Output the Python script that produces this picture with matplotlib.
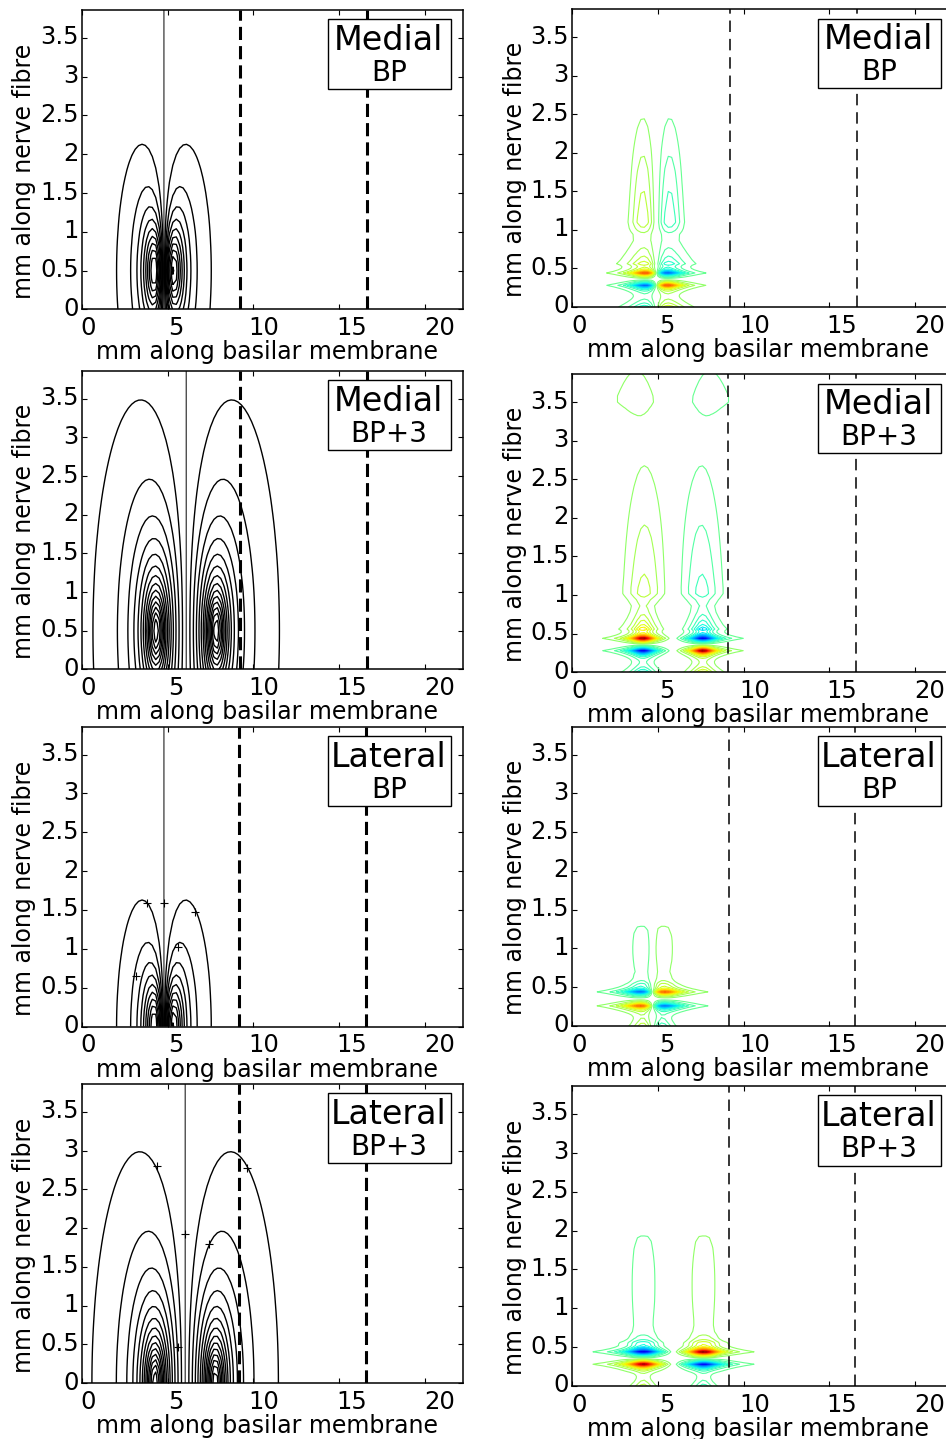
import numpy as np
import matplotlib
matplotlib.use("Agg")
import matplotlib.pyplot as plt
import matplotlib.transforms as mtransforms
from matplotlib.patches import Rectangle

plt.rcParams["contour.negative_linestyle"] = "solid"

# ---------------------------------------------------------------- labels
SITES = ["Medial", "Medial", "Lateral", "Lateral"]
MODES = ["BP", "BP+3", "BP", "BP+3"]
XLABEL = "mm along basilar membrane"
YLABEL = "mm along nerve fibre"
XTICKS = [0, 5, 10, 15, 20]
YTICKS = [0, 0.5, 1, 1.5, 2, 2.5, 3, 3.5]
YTICK_TEXT = ["0", "0.5", "1", "1.5", "2", "2.5", "3", "3.5"]

# ------------------------------------------- electrode potential (left)
POT_CENTRE = [4.78, 6.08, 4.78, 6.02]      # midpoint of electrode pair, mm
POT_HALF_SEP = [0.50, 1.75, 0.50, 1.75]    # half spacing of the pair, mm
POT_HEIGHT = [0.5, 0.5, 0.0, 0.0]          # electrode level along fibre, mm
POT_DEPTH = 0.45                           # electrode distance from plane, mm
POT_STEP = 0.13                            # contour interval
POT_NLEVELS = 16

# contour-label marks on the potential maps
PLUS_X = [[], [], [3.77, 4.78, 6.60, 5.62, 3.15], [4.36, 9.61, 6.02, 7.41, 5.62]]
PLUS_Y = [[], [], [1.59, 1.59, 1.48, 1.03, 0.65], [2.80, 2.77, 1.93, 1.80, 0.47]]

# -------------------------------------------- activating function (right)
AF_CENTRE = [4.90, 5.875, 4.68, 5.905]
AF_HALF_SEP = [0.52, 1.745, 0.535, 1.755]
AF_NLEVELS = 20
# layers: (y centre, amplitude, decay below, decay above, y exponent,
#          x width, x exponent (0 = Lorentzian), outward shift)
AF_MED_BP = [
    (0.44, 20.0, 0.045, 0.045, 1, 0.80, 0, 0.0),
    (0.28, -20.0, 0.045, 0.045, 1, 0.80, 0, 0.0),
    (0.56, 7.0, 0.05, 0.30, 1, 1.00, 0, 0.0),
    (1.10, 3.2, 0.12, 1.25, 2, 0.50, 2, 0.25),
    (0.00, -8.0, 0.10, 0.10, 1, 0.90, 0, 0.0),
]
AF_MED_BP3 = [
    (0.44, 20.0, 0.045, 0.045, 1, 0.60, 0, 0.0),
    (0.28, -20.0, 0.045, 0.045, 1, 0.60, 0, 0.0),
    (0.56, 6.0, 0.05, 0.28, 1, 0.60, 0, 0.0),
    (1.05, 2.6, 0.12, 1.60, 2, 0.85, 2, -0.1),
    (3.52, 1.6, 0.30, 1.00, 1, 1.90, 0, 0.4),
    (0.00, -6.0, 0.10, 0.10, 1, 0.60, 0, 0.0),
]
AF_LAT_BP = [
    (0.44, -20.0, 0.045, 0.045, 1, 0.95, 0, 0.0),
    (0.26, 20.0, 0.045, 0.045, 1, 0.95, 0, 0.0),
    (0.53, -2.5, 0.04, 0.08, 1, 0.60, 0, 0.0),
    (1.00, -1.5, 0.45, 0.45, 2, 0.59, 4, 0.07),
    (0.00, 5.0, 0.10, 0.12, 1, 0.50, 0, 0.0),
]
AF_LAT_BP3 = [
    (0.44, -20.0, 0.045, 0.045, 1, 0.78, 0, 0.0),
    (0.28, 20.0, 0.045, 0.045, 1, 0.78, 0, 0.0),
    (0.55, -3.0, 0.04, 0.08, 1, 0.90, 0, 0.0),
    (1.30, -1.6, 0.92, 0.92, 2, 0.68, 4, 0.0),
    (0.00, 4.0, 0.10, 0.12, 1, 0.50, 0, 0.0),
]
AF_LAYERS = [AF_MED_BP, AF_MED_BP3, AF_LAT_BP, AF_LAT_BP3]

# reference positions along the basilar membrane (dashed lines)
DASH_LEFT = [(9.22, 16.62), (9.22, 16.62), (9.16, 16.58), (9.16, 16.58)]
DASH_RIGHT = [(9.22, 16.63), (9.08, 16.57), (9.16, 16.53), (9.16, 16.53)]

# ---------------------------------------------------------------- layout
W, H = 946, 1439
AX_W = 380.6
LEFT_X0, RIGHT_X0 = 82.1, 572.4
LEFT_ROWS = [(10.0, 309.4), (371.0, 669.4), (726.7, 1026.5), (1084.0, 1383.1)]
RIGHT_ROWS = [(9.3, 306.9), (374.3, 672.3), (726.7, 1026.0), (1086.0, 1386.0)]
XLIM = (0.0, 22.23)
YLIM = (0.0, 3.86)

FS_TICK = 17.5
FS_LABEL = 17
FS_SITE = 24
FS_MODE = 20


def potential(X, Y, k):
    d2 = POT_DEPTH ** 2
    xa = POT_CENTRE[k] - POT_HALF_SEP[k]
    xb = POT_CENTRE[k] + POT_HALF_SEP[k]
    dy2 = (Y - POT_HEIGHT[k]) ** 2
    return 1.0 / np.sqrt((X - xa) ** 2 + dy2 + d2) - 1.0 / np.sqrt((X - xb) ** 2 + dy2 + d2)


def activating(X, Y, k):
    Z = np.zeros_like(X)
    c, h = AF_CENTRE[k], AF_HALF_SEP[k]
    for sign, xc, out in ((1.0, c - h, -1.0), (-1.0, c + h, 1.0)):
        for yc, amp, lo, hi, q, wx, p, shift in AF_LAYERS[k]:
            dy = Y - yc
            ly = np.where(dy < 0, lo, hi)
            py = np.exp(-(np.abs(dy) / ly) ** q)
            u = X - (xc + out * shift)
            if p == 0:
                px = 1.0 / (1.0 + (u / wx) ** 2)
            else:
                px = np.exp(-0.5 * (np.abs(u) / wx) ** p)
            Z += sign * amp * py * px
    return Z


def style_axes(ax, row_px, x0_px):
    top, bot = row_px
    hpx = bot - top
    ax.set_position([x0_px / W, 1 - bot / H, AX_W / W, hpx / H])
    ax.set_xlim(*XLIM)
    ax.set_ylim(*YLIM)
    ax.set_xticks(XTICKS)
    ax.set_xticklabels([])
    ax.set_yticks(YTICKS)
    ax.set_yticklabels(YTICK_TEXT)
    ax.tick_params(direction="in", length=3.6, width=0.8, top=True, right=True,
                   labelsize=FS_TICK, pad=2.5)
    up = mtransforms.ScaledTranslation(0, 3 / 100, ax.figure.dpi_scale_trans)
    for lab in ax.get_yticklabels():
        lab.set_transform(lab.get_transform() + up)
    for s in ax.spines.values():
        s.set_linewidth(1.1)
    for v in XTICKS:
        ax.text(0.017 + v * 0.0461, -19 / hpx, str(v), transform=ax.transAxes,
                ha="center", va="center", fontsize=FS_TICK)
    ax.text(0.487, -43 / hpx, XLABEL, transform=ax.transAxes, ha="center",
            va="center", fontsize=FS_LABEL)
    ax.text(-0.152, 0.462, YLABEL, transform=ax.transAxes, ha="center",
            va="center", rotation=90, fontsize=FS_LABEL)


def label_box(ax, site, mode):
    ax.add_patch(Rectangle((0.646, 0.735), 0.323, 0.234, transform=ax.transAxes,
                           facecolor="white", edgecolor="black", linewidth=1.0,
                           zorder=5))
    ax.text(0.805, 0.897, site, transform=ax.transAxes, ha="center",
            va="center", fontsize=FS_SITE, zorder=6)
    ax.text(0.806, 0.789, mode, transform=ax.transAxes, ha="center",
            va="center", fontsize=FS_MODE, zorder=6)


fig = plt.figure(figsize=(W / 100, H / 100), dpi=100)

# sampling grids
xl = np.arange(0.1, 22.4, 0.2)
yl = np.arange(0.0, 3.95, 0.1)
XL, YL = np.meshgrid(xl, yl)

xr = np.arange(0.0, 22.4, 0.2)
yr = np.concatenate([np.arange(0.0, 0.62, 0.02), np.arange(0.62, 3.96, 0.08)])
XR, YR = np.meshgrid(xr, yr)

pot_levels = POT_STEP * np.arange(-POT_NLEVELS, POT_NLEVELS + 1)
pot_levels = pot_levels[pot_levels != 0]
af_levels = np.concatenate([np.arange(-AF_NLEVELS, 0), np.arange(1, AF_NLEVELS + 1)]).astype(float)

for k in range(4):
    # potential map
    ax = fig.add_axes([0, 0, 1, 1])
    style_axes(ax, LEFT_ROWS[k], LEFT_X0)
    V = potential(XL, YL, k)
    ax.contour(XL, YL, V, levels=pot_levels, colors="black", linewidths=1.0)
    ax.contour(XL, YL, V, levels=[0.0], colors="black", linewidths=0.7)
    if PLUS_X[k]:
        ax.plot(PLUS_X[k], PLUS_Y[k], linestyle="none", marker="+",
                color="black", markersize=6, markeredgewidth=0.8)
    for xd in DASH_LEFT[k]:
        ax.axvline(xd, color="black", linewidth=2.2, linestyle=(0, (4.3, 2.0)))
    label_box(ax, SITES[k], MODES[k])

    # activating-function map
    ax = fig.add_axes([0, 0, 1, 1])
    style_axes(ax, RIGHT_ROWS[k], RIGHT_X0)
    A = activating(XR, YR, k)
    ax.contour(XR, YR, A, levels=af_levels, cmap="jet", vmin=-AF_NLEVELS,
               vmax=AF_NLEVELS, linewidths=0.8)
    for xd in DASH_RIGHT[k]:
        ax.axvline(xd, color="black", linewidth=1.1, linestyle=(0, (7.5, 4.5)))
    label_box(ax, SITES[k], MODES[k])

fig.savefig("out.png", dpi=100)
